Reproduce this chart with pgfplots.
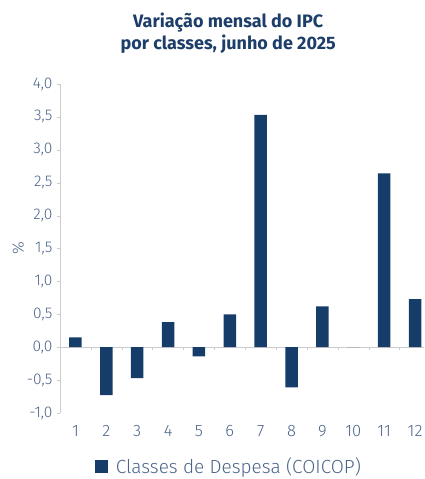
\documentclass[border=0pt]{standalone}
\usepackage{pgfplots}
\pgfplotsset{compat=1.18}
\usepackage{fontspec}
\setmainfont{Fira Sans Light}[BoldFont={Fira Sans Bold}]
\definecolor{navy}{HTML}{163C69}
\definecolor{txt}{HTML}{4B6489}
\definecolor{ttl}{HTML}{1E3E6A}
\definecolor{axgray}{HTML}{CCCCCC}
\begin{document}
\begin{tikzpicture}
\begin{axis}[
  scale only axis,
  width=364pt, height=329pt,
  xmin=0.5, xmax=12.29,
  ymin=-1, ymax=4,
  ytick={-1,-0.5,...,4},
  xtick={1,...,12},
  xticklabels={1,2,3,4,5,6,7,8,9,10,11,12},
  major x tick style={draw=none},
  axis x line=bottom,
  x axis line style={draw=none, -},
  axis y line=left,
  y axis line style={draw=axgray, -},
  ytick style={draw=axgray},
  tick align=outside,
  major tick length=3pt,
  /pgf/number format/.cd, use comma, fixed, fixed zerofill, precision=1, assume math mode=true,
  /pgfplots/.cd,
  yticklabel style={font=\fontsize{15.5}{18}\selectfont, text=txt, anchor=east, xshift=-1pt},
  xticklabel style={font=\fontsize{16.5}{19}\selectfont, text=txt, yshift=-6pt},
  ylabel={\%},
  ylabel style={font=\fontsize{16}{19}\selectfont, text=txt, at={(axis description cs:-0.115,0.5)}, anchor=center},
  title={Variação mensal do IPC\\por classes, junho de 2025},
  title style={font=\fontsize{18}{21.6}\selectfont\bfseries, text=ttl, align=center, at={(axis description cs:0.462,1)}, anchor=south, yshift=21pt},
  ybar, bar width=12.5pt,
  legend style={at={(axis description cs:0.464,-0.163)}, anchor=center, draw=none, fill=none, font=\fontsize{19}{22}\selectfont, text=txt, inner sep=0pt},
  legend image code/.code={\fill[navy] (0pt,-6.5pt) rectangle (13pt,6.5pt); \path (19pt,0pt);},
  clip=false,
]
\coordinate (O) at (rel axis cs:0,0);
\draw[axgray] (axis cs:0.5,0) -- (axis cs:12.29,0);
\pgfplotsinvokeforeach{1.5,2.5,3.5,4.5,5.5,6.5,7.5,8.5,9.5,10.5,11.5}{\draw[axgray] (axis cs:#1,0) -- ++(0pt,-3pt);}
\addplot[fill=navy, draw=none, bar shift=0pt] coordinates {
(1,0.15) (2,-0.73) (3,-0.47) (4,0.38) (5,-0.14) (6,0.50) (7,3.53) (8,-0.61) (9,0.62) (10,0) (11,2.64) (12,0.73)};
\addlegendentry{Classes de Despesa (COICOP)}
\end{axis}
\pgfresetboundingbox
\path (O) ++(-60pt,-66pt) rectangle ++(424pt,479pt);
\end{tikzpicture}
\end{document}
